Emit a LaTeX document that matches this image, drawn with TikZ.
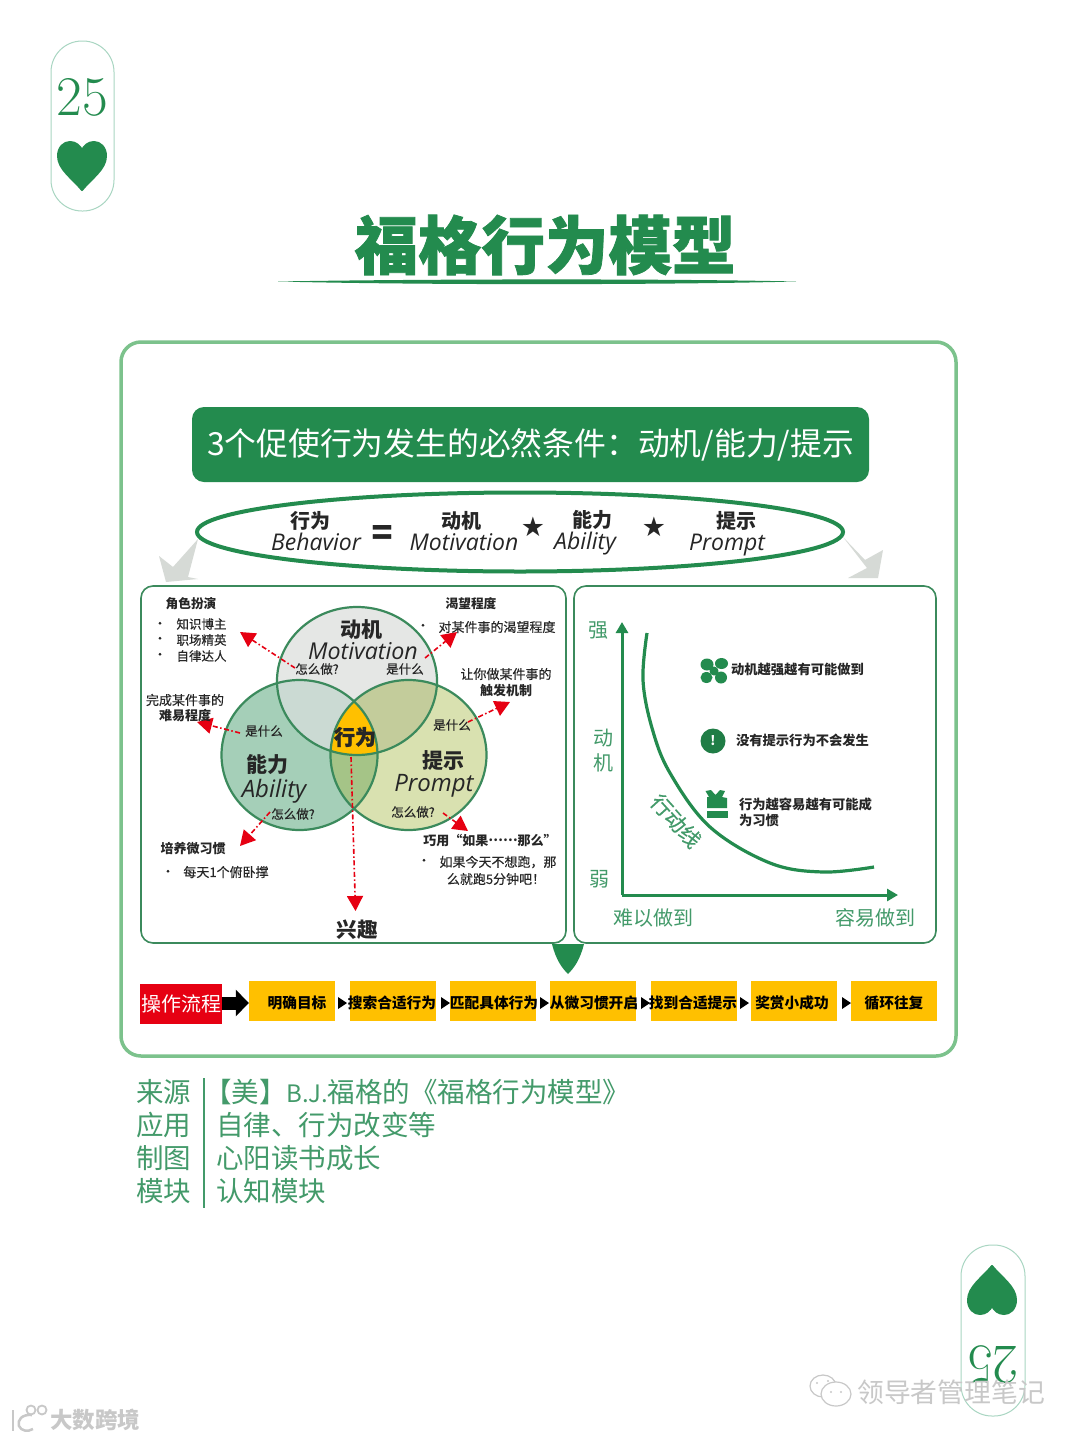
\documentclass[tikz,border=0pt]{standalone}
\usepackage{fontspec}
\setmainfont{Noto Sans CJK SC}
\newfontfamily\latinhand{Open Sans}
\newfontfamily\symfont{DejaVu Sans}
\newfontfamily\numfont{Latin Modern Roman}
\newfontfamily\heavyfont[BoldFeatures={FakeBold=1.2}]{Noto Sans CJK SC}
\newfontfamily\medfont[UprightFeatures={FakeBold=0.3}]{Noto Sans CJK SC}
\usetikzlibrary{arrows.meta,shapes.geometric}
\definecolor{dkgreen}{HTML}{238B4E}
\definecolor{ringgreen}{HTML}{3B8A5C}
\definecolor{midgreen}{HTML}{439A6A}
\definecolor{lightgreen}{HTML}{7CC28C}
\definecolor{pillline}{HTML}{A9D6C2}
\definecolor{flowyellow}{HTML}{FFC000}
\definecolor{arrowred}{HTML}{E60012}
\definecolor{greyarrow}{HTML}{D6DAD6}
\definecolor{wm}{HTML}{C8C8C8}
\definecolor{vmot}{HTML}{E5E7E5}
\definecolor{vabi}{HTML}{A5CFB8}
\definecolor{vpro}{HTML}{D9E1B0}
\definecolor{vma}{HTML}{CBDAD3}
\definecolor{vmp}{HTML}{C3CC9B}
\definecolor{vap}{HTML}{A5C487}
\newcommand{\fz}[1]{\fontsize{#1}{#1}\selectfont}
\newcommand{\sm}{\medfont\fz{12.5}}
\tikzset{
  x=1pt,y=-1pt,
  lab/.style={inner sep=0pt,outer sep=0pt,align=center,text=black!85},
  hand/.style={inner sep=0pt,outer sep=0pt,font=\latinhand\itshape\fz{#1},text=black!85},
  panel/.style={draw=ringgreen,line width=1.6pt,rounded corners=12pt,fill=white},
  redflow/.style={draw=arrowred,line width=1.6pt,dash pattern=on 5pt off 2.5pt on 1.5pt off 2.5pt,
     -{Triangle[length=15pt,width=16pt,fill=arrowred]}},
  axisline/.style={draw=dkgreen,line width=3pt,-{Triangle[length=11pt,width=12pt,fill=dkgreen]}},
  ybox/.style={fill=flowyellow,minimum width=86pt,minimum height=40pt,inner sep=0pt},
  ytext/.style={font=\bfseries\fz{14.7},inner sep=0pt,text=black},
  tinyarrow/.style={draw=none,fill=black},
  pill/.style={draw=pillline,line width=1pt,rounded corners=31pt,fill=white},
  src/.style={inner sep=0pt,outer sep=0pt,anchor=west,text=midgreen,font=\fz{27.5}},
  axlab/.style={inner sep=0pt,outer sep=0pt,text=midgreen,font=\fz{20}}
}
\newcommand{\heartshape}[2]{%
  \filldraw[dkgreen,line width=2pt,line join=round,shift={(#1,#2)}]
   (0,24) .. controls (-10,12) and (-24,3) .. (-24,-10)
   .. controls (-24,-19) and (-18,-24) .. (-12,-24)
   .. controls (-6,-24) and (-2,-20) .. (0,-16)
   .. controls (2,-20) and (6,-24) .. (12,-24)
   .. controls (18,-24) and (24,-19) .. (24,-10)
   .. controls (24,3) and (10,12) .. (0,24) -- cycle;}
\newcommand{\spadeshape}[2]{%
  \filldraw[dkgreen,line width=2pt,line join=round,shift={(#1,#2)}]
   (0,-24) .. controls (-10,-12) and (-24,-3) .. (-24,10)
   .. controls (-24,19) and (-18,24) .. (-12,24)
   .. controls (-6,24) and (-2,20) .. (0,16)
   .. controls (2,20) and (6,24) .. (12,24)
   .. controls (18,24) and (24,19) .. (24,10)
   .. controls (24,-3) and (10,-12) .. (0,-24) -- cycle;}
\begin{document}
\begin{tikzpicture}
\useasboundingbox (0,0) rectangle (1080,1440);
\fill[white] (0,0) rectangle (1080,1440);

% page tabs
\draw[pill] (51,41) rectangle (114,211);
\node[inner sep=0pt,text=dkgreen,font=\numfont\fz{56}] (numtop) at (82,97) {25};
\heartshape{82}{166}
\draw[pill] (961,1245) rectangle (1025,1416);
\spadeshape{992}{1290}
\node[inner sep=0pt,text=dkgreen,font=\numfont\fz{56},rotate=180] (numbot) at (993,1365) {25};

% title
\node[inner sep=0pt,text=dkgreen,font=\heavyfont\bfseries\fz{63.5}] (title) at (545,245) {福格行为模型};
\fill[dkgreen] (278,281.5) .. controls (420,279) and (660,278.5) .. (796,281.5)
   .. controls (660,285) and (420,285) .. (278,281.5) -- cycle;

% outer frame
\draw[lightgreen,line width=3.5pt,rounded corners=20pt] (121,342) rectangle (956,1056);
\node[fill=dkgreen,rounded corners=12pt,minimum width=677pt,minimum height=75pt,inner sep=0pt,
      text=white,font=\fz{31.8}] (banner) at (530.5,444.5) {3个促使行为发生的必然条件：动机/能力/提示};

% grey arrows
\fill[greyarrow] (198,539) -- (188,577) -- (198,579) -- (166,582) -- (159,556) -- (173,567) -- cycle;
\fill[greyarrow] (843,537) -- (865,560) -- (883,550) -- (878,578) -- (848,578) -- (867,568) -- cycle;

% formula ellipse
\node[ellipse,draw=dkgreen,line width=4pt,minimum width=646pt,minimum height=79pt,inner sep=0pt] (formula) at (520,532) {};
\node[lab,font=\bfseries\fz{20}] (fa) at (310,521) {行为};
\node[hand=23] (fae) at (316,542) {Behavior};
\node[lab,font=\heavyfont\bfseries\fz{34}] (feq) at (382,535) {=};
\node[lab,font=\bfseries\fz{20}] (fb) at (461,521) {动机};
\node[hand=23] (fbe) at (464,542) {Motivation};
\node[lab,font=\symfont\fz{27}] (fs1) at (533,527) {★};
\node[lab,font=\bfseries\fz{20}] (fc) at (592,520) {能力};
\node[hand=23] (fce) at (585,544) {Ability};
\node[lab,font=\symfont\fz{27}] (fs2) at (654,527) {★};
\node[lab,font=\bfseries\fz{20}] (fd) at (736,521) {提示};
\node[hand=23] (fde) at (727,545) {Prompt};

% panels
\draw[panel] (141,586) rectangle (566,943);
\draw[panel] (574,586) rectangle (936,943);
\fill[dkgreen] (552,944) .. controls (556,960) and (562,968) .. (568,974)
   .. controls (574,968) and (580,960) .. (584,944) -- cycle;

% venn
\def\cM{(357,681) ellipse [x radius=80pt,y radius=74pt]}
\def\cA{(299.5,755) ellipse [x radius=78pt,y radius=75pt]}
\def\cP{(408.5,755) ellipse [x radius=78pt,y radius=75pt]}
\fill[vmot] \cM;
\fill[vabi] \cA;
\fill[vpro] \cP;
\begin{scope}\clip \cM; \fill[vma] \cA; \end{scope}
\begin{scope}\clip \cM; \fill[vmp] \cP; \end{scope}
\begin{scope}\clip \cA; \fill[vap] \cP; \end{scope}
\begin{scope}\clip \cM; \clip \cA; \fill[flowyellow] \cP; \end{scope}
\draw[ringgreen,line width=2.2pt] \cM;
\draw[ringgreen,line width=2.2pt] \cA;
\draw[ringgreen,line width=2.2pt] \cP;

% red connectors
\coordinate (r1a) at (295,668); \coordinate (r1b) at (240,632);
\coordinate (r2a) at (425,658); \coordinate (r2b) at (457,632);
\coordinate (r3a) at (468,722); \coordinate (r3b) at (510,702);
\coordinate (r4a) at (240,733); \coordinate (r4b) at (197,722);
\coordinate (r5a) at (270,812); \coordinate (r5b) at (240,846);
\coordinate (r6a) at (443,813); \coordinate (r6b) at (468,831);
\coordinate (r7a) at (351,757); \coordinate (r7b) at (355.5,911);
\draw[redflow] (r1a) -- (r1b);
\draw[redflow] (r2a) -- (r2b);
\draw[redflow] (r3a) -- (r3b);
\draw[redflow] (r4a) -- (r4b);
\draw[redflow] (r5a) -- (r5b);
\draw[redflow] (r6a) -- (r6b);
\draw[redflow] (r7a) -- (r7b);

% venn text
\node[lab,font=\bfseries\fz{21}] (vm) at (361,630) {动机};
\node[hand=23.2] (vme) at (363,651) {Motivation};
\node[lab,font=\sm] (q1) at (317,669) {怎么做?};
\node[lab,font=\sm] (w1) at (405,669) {是什么};
\node[lab,font=\sm] (w2) at (264,731) {是什么};
\node[lab,font=\sm] (w3) at (452,725) {是什么};
\node[lab,font=\heavyfont\bfseries\fz{21}] (vb) at (355,737) {行为};
\node[lab,font=\bfseries\fz{21}] (va) at (267,765) {能力};
\node[hand=24] (vae) at (274,791) {Ability};
\node[lab,font=\bfseries\fz{21}] (vp) at (443,761) {提示};
\node[hand=24] (vpe) at (434,786) {Prompt};
\node[lab,font=\sm] (q2) at (293,814) {怎么做?};
\node[lab,font=\sm] (q3) at (413,812) {怎么做?};

% left panel notes
\node[lab,font=\bfseries\fz{12.7}] (n1) at (191,604) {角色扮演};
\node[lab,font=\sm] (b1) at (160,625) {•};
\node[lab,font=\sm] (b2) at (160,640) {•};
\node[lab,font=\sm] (b3) at (160,656) {•};
\node[lab,font=\sm] (n1a) at (201.5,624) {知识博主};
\node[lab,font=\sm] (n1b) at (201.5,640) {职场精英};
\node[lab,font=\sm] (n1c) at (201.5,656) {自律达人};
\node[lab,font=\bfseries\fz{12.7}] (n2) at (471,604) {渴望程度};
\node[lab,font=\sm] (b4) at (423,627) {•};
\node[lab,font=\medfont\fz{13}] (n2a) at (497,627) {对某件事的渴望程度};
\node[lab,font=\medfont\fz{13}] (n3a) at (506,674) {让你做某件事的};
\node[lab,font=\bfseries\fz{13}] (n3b) at (506,690) {触发机制};
\node[lab,font=\medfont\fz{13}] (n4a) at (185,700) {完成某件事的};
\node[lab,font=\bfseries\fz{13}] (n4b) at (185,716) {难易程度};
\node[lab,font=\bfseries\fz{13}] (n5) at (193,849) {培养微习惯};
\node[lab,font=\sm] (b5) at (168,873) {•};
\node[lab,font=\medfont\fz{13}] (n5a) at (226,872) {每天1个俯卧撑};
\node[lab,font=\bfseries\fz{13}] (n6) at (490,841) {巧用“如果\raisebox{0.32em}{……}那么”};
\node[lab,font=\sm] (b6) at (424,862) {•};
\node[lab,font=\medfont\fz{13}] (n6a) at (498,862) {如果今天不想跑，那};
\node[lab,font=\medfont\fz{13}] (n6b) at (496,879) {么就跑5分钟吧！};
\node[lab,font=\bfseries\fz{20.5}] (xq) at (357,930) {兴趣};

% right panel chart
\coordinate (yend) at (622,622);
\coordinate (xend) at (898,895);
\coordinate (corner) at (622,895);
\draw[axisline] (corner) -- (yend);
\draw[axisline] (corner) -- (xend);
\draw[dkgreen,line width=3.2pt] plot[smooth,tension=0.6] coordinates
   {(647,633) (643,680) (652,728) (670,773) (710,827) (770,863) (823,872) (874,867)};
\node[axlab] (qiang) at (598,631) {强};
\node[axlab] (dong) at (603,738) {动};
\node[axlab] (ji) at (603,763) {机};
\node[axlab] (ruo) at (599,879) {弱};
\node[axlab] (hard) at (653,918) {难以做到};
\node[axlab] (easy) at (875,918) {容易做到};
\node[inner sep=0pt,text=midgreen,font=\medfont\fz{21},rotate=-48] (line) at (676,821) {行动线};

% fan icon
\fill[dkgreen] (707,664.5) ellipse [x radius=6.5pt,y radius=6pt];
\fill[dkgreen] (721.5,663.5) ellipse [x radius=6.5pt,y radius=5.5pt];
\fill[dkgreen] (706.5,677.5) ellipse [x radius=6pt,y radius=5.5pt];
\fill[dkgreen] (721,677.5) ellipse [x radius=6pt,y radius=6pt];
\fill[dkgreen] (714,671) circle (4.5pt);
% alert icon
\fill[dkgreen!90!black] (713,741) circle (12.5pt);
\node[inner sep=0pt,text=white,font=\bfseries\fz{13}] (alert) at (713,741) {!};
% gift icon
\fill[dkgreen] (705.5,791) -- (711,790) -- (715.5,795) -- (720,790) -- (725,791) -- (722,797) -- (727,798)
   -- (727,808) -- (707,808) -- (707,797) -- (709,797) -- cycle;
\fill[dkgreen] (707,810.5) rectangle (728,818);

\node[lab,anchor=west,font=\bfseries\fz{13.3}] (t1) at (731,669) {动机越强越有可能做到};
\node[lab,anchor=west,font=\bfseries\fz{13.3}] (t2) at (736,740) {没有提示行为不会发生};
\node[lab,anchor=west,font=\bfseries\fz{13.3}] (t3) at (739,804) {行为越容易越有可能成};
\node[lab,anchor=west,font=\bfseries\fz{13.3}] (t4) at (739,820) {为习惯};

% flow
\node[fill=arrowred,minimum width=82pt,minimum height=40pt,inner sep=0pt,text=white,font=\fz{20}] (op) at (181,1003.5) {操作流程};
\node[ybox] (s1) at (292,1001) {};
\node[ytext] at (297,1003) (s1t) {明确目标};
\node[ybox] (s2) at (392.5,1001) {};
\node[ytext] at (392,1003) (s2t) {搜索合适行为};
\node[ybox] (s3) at (493,1001) {};
\node[ytext] at (494,1003) (s3t) {匹配具体行为};
\node[ybox] (s4) at (593,1001) {};
\node[ytext] at (594,1003) (s4t) {从微习惯开启};
\node[ybox] (s5) at (693.5,1001) {};
\node[ytext] at (693,1003) (s5t) {找到合适提示};
\node[ybox] (s6) at (793.5,1001) {};
\node[ytext] at (792,1003) (s6t) {奖赏小成功};
\node[ybox] (s7) at (893.5,1001) {};
\node[ytext] at (894,1003) (s7t) {循环往复};
\draw[black,line width=13pt,-{Triangle[length=13pt,width=26pt,fill=black]}] (op.east) ++(0,-0.5) -- (s1.west |- 0,1003);
\newcommand{\tinytri}[1]{\fill[tinyarrow] (#1,997) -- (#1+9,1003) -- (#1,1009) -- cycle;}
\tinytri{338}\tinytri{441}\tinytri{540}\tinytri{641}\tinytri{740}\tinytri{842}

% source lines
\node[src] (l1) at (136,1092) {来源};
\node[src] (l2) at (136,1125) {应用};
\node[src] (l3) at (136,1158) {制图};
\node[src] (l4) at (136,1191) {模块};
\draw[midgreen,line width=2pt] (204,1078) -- (204,1208);
\node[src] (r1) at (204,1092) {【美】{\fz{24}B.J.}福格的《福格行为模型》};
\node[src] (r2) at (216,1125) {自律、行为改变等};
\node[src] (r3) at (216,1158) {心阳读书成长};
\node[src] (r4) at (216,1191) {认知模块};

% watermarks
\node[inner sep=0pt,text=wm,font=\fz{26.8}] (wm1) at (951,1392) {领导者管理笔记};
\draw[wm,line width=1.2pt,fill=white] (823,1386) ellipse [x radius=13pt,y radius=11pt];
\draw[wm,line width=1.2pt,fill=white] (836,1394) ellipse [x radius=15pt,y radius=12pt];
\fill[wm] (817,1383) circle (1.2pt) (828,1381) circle (1.2pt) (831,1392) circle (1.2pt) (841,1392) circle (1.2pt);
\node[inner sep=0pt,text=wm,font=\bfseries\fz{22.5}] (wm2) at (95,1420) {大数跨境};
\draw[wm,line width=2.5pt] (13,1410) -- (13,1431);
\draw[wm,line width=2.5pt] (32,1415) .. controls (22,1414) and (17,1420) .. (19,1426) .. controls (21,1431) and (28,1432) .. (33,1429);
\draw[wm,line width=1.8pt] (31,1410) circle (4.5pt);
\draw[wm,line width=1.8pt] (42,1410) circle (4.5pt);
\end{tikzpicture}
\end{document}
